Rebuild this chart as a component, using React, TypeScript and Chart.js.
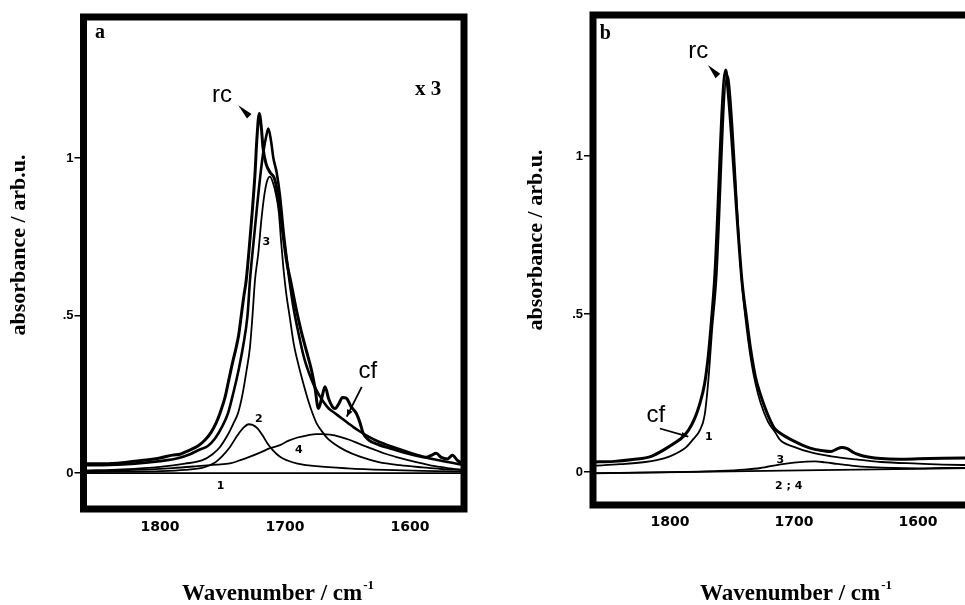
import React, { useEffect, useRef } from "react";
import { Chart, registerables } from "chart.js";

Chart.register(...registerables);

// ---------------- Panel a (wavenumber / cm-1 , absorbance) ----------------
const aRcX = [1861, 1845, 1830, 1815, 1800, 1790, 1784, 1778, 1770, 1764, 1759, 1755, 1752, 1748, 1745, 1742, 1739, 1737, 1735, 1733, 1731, 1728.5, 1726, 1724, 1722.5, 1720.6, 1719, 1717.5, 1715, 1712, 1708, 1705, 1702, 1699, 1695, 1691, 1687, 1683, 1679, 1676, 1673.3, 1670.5, 1668, 1665, 1662, 1660, 1657, 1654, 1651, 1647, 1643, 1640, 1637.5, 1633, 1625, 1615, 1605, 1595, 1587, 1583, 1579, 1575, 1570, 1566, 1562, 1557];
const aRcY = [0.03, 0.03, 0.033, 0.04, 0.048, 0.057, 0.06, 0.07, 0.085, 0.105, 0.13, 0.16, 0.19, 0.24, 0.295, 0.35, 0.4, 0.44, 0.5, 0.56, 0.613, 0.72, 0.84, 0.95, 1.06, 1.142, 1.1, 1.03, 0.98, 0.955, 0.93, 0.86, 0.77, 0.68, 0.6, 0.52, 0.45, 0.39, 0.33, 0.27, 0.205, 0.24, 0.274, 0.235, 0.21, 0.205, 0.22, 0.24, 0.238, 0.21, 0.19, 0.16, 0.127, 0.105, 0.09, 0.078, 0.066, 0.056, 0.05, 0.056, 0.063, 0.05, 0.045, 0.057, 0.04, 0.03];

const aFitX = [1861, 1840, 1820, 1800, 1785, 1776, 1768, 1762, 1756, 1750, 1745.6, 1741, 1737, 1733.6, 1730, 1728, 1725, 1722, 1719, 1717.3, 1715, 1713.3, 1711, 1709.3, 1706.7, 1704, 1701, 1698, 1696.5, 1693, 1689, 1685, 1681, 1677, 1673, 1669, 1665, 1660, 1655, 1650, 1645, 1640, 1635, 1628, 1620, 1610, 1600, 1590, 1580, 1570, 1560, 1557];
const aFitY = [0.025, 0.026, 0.03, 0.038, 0.048, 0.06, 0.075, 0.085, 0.11, 0.15, 0.19, 0.26, 0.33, 0.401, 0.5, 0.613, 0.74, 0.86, 0.97, 1.02, 1.07, 1.094, 1.05, 1.0, 0.955, 0.88, 0.76, 0.66, 0.613, 0.52, 0.44, 0.37, 0.32, 0.28, 0.25, 0.225, 0.205, 0.19, 0.175, 0.16, 0.145, 0.132, 0.12, 0.105, 0.092, 0.078, 0.065, 0.053, 0.043, 0.035, 0.028, 0.026];

const aComp3X = [1861, 1830, 1800, 1780, 1766, 1758, 1752, 1746, 1741, 1737.6, 1734, 1731, 1728, 1726, 1724, 1721.3, 1719, 1717, 1714.5, 1712, 1709.5, 1707, 1705, 1703, 1701, 1699, 1696, 1693, 1689, 1685, 1681, 1678, 1674.7, 1670, 1666, 1661, 1652, 1640, 1625, 1608, 1590, 1575, 1557];
const aComp3Y = [0.008, 0.012, 0.02, 0.03, 0.041, 0.06, 0.083, 0.12, 0.16, 0.19, 0.25, 0.32, 0.401, 0.5, 0.613, 0.7, 0.8, 0.87, 0.925, 0.941, 0.92, 0.88, 0.83, 0.73, 0.64, 0.57, 0.49, 0.41, 0.34, 0.28, 0.225, 0.19, 0.158, 0.13, 0.11, 0.094, 0.072, 0.052, 0.035, 0.025, 0.018, 0.013, 0.01];

const aComp2X = [1861, 1800, 1780, 1765, 1757, 1750, 1744, 1738, 1733, 1729, 1726, 1722, 1718, 1714, 1710, 1704, 1698, 1690, 1675, 1650, 1620, 1590, 1557];
const aComp2Y = [0.003, 0.006, 0.01, 0.018, 0.031, 0.055, 0.083, 0.12, 0.145, 0.155, 0.153, 0.142, 0.12, 0.094, 0.074, 0.052, 0.04, 0.03, 0.022, 0.015, 0.01, 0.007, 0.005];

const aComp4X = [1861, 1820, 1790, 1770, 1755, 1744, 1735, 1728, 1720, 1712, 1704, 1697, 1690, 1682, 1675, 1670, 1664, 1656, 1648, 1640, 1630, 1621, 1610, 1595, 1580, 1570, 1557];
const aComp4Y = [0.005, 0.01, 0.016, 0.022, 0.027, 0.031, 0.042, 0.052, 0.065, 0.079, 0.089, 0.103, 0.113, 0.12, 0.124, 0.124, 0.122, 0.115, 0.105, 0.092, 0.077, 0.063, 0.05, 0.035, 0.022, 0.016, 0.01];

const aComp1X = [1861, 1557];
const aComp1Y = [0, 0];

// ---------------- Panel b ----------------
const bExpX = [1862, 1845, 1830, 1815, 1803, 1795, 1790, 1785, 1780, 1776, 1772, 1769, 1766.5, 1764, 1755, 1753, 1742, 1738, 1735, 1731, 1727.4, 1722, 1716, 1711, 1700, 1687, 1677, 1670, 1666, 1661.5, 1657, 1652, 1647, 1640, 1630, 1615, 1600, 1580, 1556];
const bExpY = [0.032, 0.034, 0.04, 0.05, 0.075, 0.095, 0.11, 0.133, 0.17, 0.215, 0.28, 0.37, 0.48, 0.608, 1.272, 1.2, 0.608, 0.48, 0.39, 0.3, 0.25, 0.19, 0.14, 0.123, 0.098, 0.076, 0.068, 0.065, 0.072, 0.078, 0.074, 0.062, 0.054, 0.048, 0.043, 0.041, 0.042, 0.044, 0.045];

const bComp1X = [1862, 1840, 1820, 1810.7, 1800, 1792, 1786.6, 1781, 1775.8, 1772, 1769, 1766, 1762.5, 1754, 1752.5, 1742.2, 1737, 1734, 1731, 1727, 1721, 1715, 1711, 1700, 1687, 1670, 1650, 1630, 1600, 1580, 1556];
const bComp1Y = [0.02, 0.025, 0.032, 0.038, 0.05, 0.065, 0.08, 0.105, 0.133, 0.18, 0.291, 0.45, 0.608, 1.255, 1.24, 0.608, 0.42, 0.34, 0.28, 0.22, 0.16, 0.125, 0.101, 0.08, 0.063, 0.05, 0.04, 0.032, 0.027, 0.024, 0.022];

const bComp3X = [1862, 1800, 1760, 1740, 1727, 1712, 1700, 1690, 1683, 1675, 1665, 1652, 1638, 1620, 1600, 1580, 1556];
const bComp3Y = [-0.003, 0.0, 0.004, 0.008, 0.013, 0.024, 0.03, 0.033, 0.034, 0.031, 0.026, 0.02, 0.016, 0.013, 0.012, 0.013, 0.014];

const bComp24X = [1862, 1556];
const bComp24Y = [-0.004, 0.013];

// ---------------- axes ----------------
const xTickValues = [1800, 1700, 1600];
const yTickValues = [0, 0.5, 1];
const yTickLabels = ["0", ".5", "1"];
const xTitle = "Wavenumber / cm";
const xTitleSup = "-1";
const yTitle = "absorbance / arb.u.";

const SERIF = '"Liberation Serif", "Times New Roman", serif';
const SANS = '"Liberation Sans", Arial, sans-serif';
const LABEL = '"DejaVu Sans", sans-serif';

type Ann =
  | { kind: "text"; x: number; y: number; text: string; font: string }
  | { kind: "wedge"; x1: number; y1: number; x2: number; y2: number }
  | { kind: "arrow"; x1: number; y1: number; x2: number; y2: number };

const annA: Ann[] = [
  { kind: "text", x: 1852, y: 1.381, text: "a", font: `bold 20px ${SERIF}` },
  { kind: "text", x: 1596, y: 1.2, text: "x 3", font: `bold 21px ${SERIF}` },
  { kind: "text", x: 1758.4, y: 1.178, text: "rc", font: `24px ${SANS}` },
  { kind: "wedge", x1: 1737.4, y1: 1.168, x2: 1728.6, y2: 1.133 },
  { kind: "text", x: 1641.3, y: 0.302, text: "cf", font: `24px ${SANS}` },
  { kind: "arrow", x1: 1638.6, y1: 0.274, x2: 1650.6, y2: 0.179 },
  { kind: "text", x: 1718.1, y: 0.724, text: "3", font: `bold 11px ${LABEL}` },
  { kind: "text", x: 1724, y: 0.163, text: "2", font: `bold 11px ${LABEL}` },
  { kind: "text", x: 1692, y: 0.064, text: "4", font: `bold 11px ${LABEL}` },
  { kind: "text", x: 1754.7, y: -0.049, text: "1", font: `bold 11px ${LABEL}` },
];

const annB: Ann[] = [
  { kind: "text", x: 1856.5, y: 1.369, text: "b", font: `bold 20px ${SERIF}` },
  { kind: "text", x: 1785.2, y: 1.309, text: "rc", font: `24px ${SANS}` },
  { kind: "wedge", x1: 1769.4, y1: 1.288, x2: 1761.3, y2: 1.253 },
  { kind: "text", x: 1818.8, y: 0.159, text: "cf", font: `24px ${SANS}` },
  { kind: "arrow", x1: 1808.1, y1: 0.138, x2: 1785.2, y2: 0.112 },
  { kind: "text", x: 1771.8, y: 0.101, text: "1", font: `bold 11px ${LABEL}` },
  { kind: "text", x: 1714, y: 0.028, text: "3", font: `bold 11px ${LABEL}` },
  { kind: "text", x: 1715.3, y: -0.052, text: "2 ; 4", font: `bold 11px ${LABEL}` },
];

type Series = { xs: number[]; ys: number[]; width: number };

type PanelCfg = {
  left: number;
  width: number;
  padding: { left: number; top: number; right: number; bottom: number };
  yWidth: number;
  xHeight: number;
  xMin: number;
  xMax: number;
  yMin: number;
  yMax: number;
  xTickPad: number;
  series: Series[];
  ann: Ann[];
  titles: { xLeft: number; xBase: number; yBase: number; yCenter: number };
};

const panelA: PanelCfg = {
  left: 0,
  width: 480,
  padding: { left: 0, top: 17, right: 16, bottom: 0 },
  yWidth: 83.5,
  xHeight: 96,
  xMin: 1556.8,
  xMax: 1861.2,
  yMin: -0.114,
  yMax: 1.448,
  xTickPad: 10,
  series: [
    { xs: aComp1X, ys: aComp1Y, width: 1.8 },
    { xs: aComp2X, ys: aComp2Y, width: 1.8 },
    { xs: aComp4X, ys: aComp4Y, width: 1.8 },
    { xs: aComp3X, ys: aComp3Y, width: 1.8 },
    { xs: aFitX, ys: aFitY, width: 2.6 },
    { xs: aRcX, ys: aRcY, width: 3 },
  ],
  ann: annA,
  titles: { xLeft: 182, xBase: 600, yBase: 25, yCenter: 245 },
};

const panelB: PanelCfg = {
  left: 480,
  width: 495,
  padding: { left: 0, top: 15, right: 4, bottom: 0 },
  yWidth: 113,
  xHeight: 100,
  xMin: 1557.3,
  xMax: 1862,
  yMin: -0.104,
  yMax: 1.446,
  xTickPad: 9,
  series: [
    { xs: bComp24X, ys: bComp24Y, width: 1.8 },
    { xs: bComp3X, ys: bComp3Y, width: 1.8 },
    { xs: bComp1X, ys: bComp1Y, width: 1.8 },
    { xs: bExpX, ys: bExpY, width: 3 },
  ],
  ann: annB,
  titles: { xLeft: 220, xBase: 600, yBase: 62, yCenter: 240 },
};

function Panel({ cfg }: { cfg: PanelCfg }) {
  const ref = useRef<HTMLCanvasElement | null>(null);

  useEffect(() => {
    const canvas = ref.current;
    if (!canvas) return;

    const framePlugin = {
      id: "frame",
      afterDatasetsDraw(chart: any) {
        const { ctx, chartArea } = chart;
        const { left, top, right, bottom } = chartArea;
        ctx.save();
        ctx.lineWidth = 7;
        ctx.strokeStyle = "#000";
        ctx.lineJoin = "miter";
        ctx.strokeRect(left, top, right - left, bottom - top);
        ctx.restore();
      },
    };

    const annPlugin = {
      id: "ann",
      afterDraw(chart: any) {
        const { ctx } = chart;
        const xs = chart.scales.x;
        const ys = chart.scales.y;
        ctx.save();
        ctx.fillStyle = "#000";
        ctx.strokeStyle = "#000";
        for (const a of cfg.ann) {
          if (a.kind === "text") {
            ctx.font = a.font;
            ctx.textAlign = "left";
            ctx.textBaseline = "alphabetic";
            ctx.fillText(a.text, xs.getPixelForValue(a.x), ys.getPixelForValue(a.y));
          } else {
            const x1 = xs.getPixelForValue(a.x1);
            const y1 = ys.getPixelForValue(a.y1);
            const x2 = xs.getPixelForValue(a.x2);
            const y2 = ys.getPixelForValue(a.y2);
            const dx = x2 - x1;
            const dy = y2 - y1;
            const len = Math.hypot(dx, dy) || 1;
            const ux = dx / len;
            const uy = dy / len;
            const nx = -uy;
            const ny = ux;
            if (a.kind === "wedge") {
              ctx.beginPath();
              ctx.moveTo(x1, y1);
              ctx.lineTo(x2 + nx * 3.2, y2 + ny * 3.2);
              ctx.lineTo(x2 - nx * 3.2, y2 - ny * 3.2);
              ctx.closePath();
              ctx.fill();
            } else {
              ctx.lineWidth = 1.8;
              ctx.beginPath();
              ctx.moveTo(x1, y1);
              ctx.lineTo(x2, y2);
              ctx.stroke();
              ctx.beginPath();
              ctx.moveTo(x2, y2);
              ctx.lineTo(x2 - ux * 7 + nx * 3, y2 - uy * 7 + ny * 3);
              ctx.lineTo(x2 - ux * 7 - nx * 3, y2 - uy * 7 - ny * 3);
              ctx.closePath();
              ctx.fill();
            }
          }
        }
        // axis titles
        const t = cfg.titles;
        ctx.textAlign = "left";
        ctx.textBaseline = "alphabetic";
        ctx.font = `bold 23px ${SERIF}`;
        ctx.fillText(xTitle, t.xLeft, t.xBase);
        const w = ctx.measureText(xTitle).width;
        ctx.font = `bold 13px ${SERIF}`;
        ctx.fillText(xTitleSup, t.xLeft + w + 1, t.xBase - 11);

        ctx.save();
        ctx.translate(t.yBase, t.yCenter);
        ctx.rotate(-Math.PI / 2);
        ctx.font = `bold 22px ${SERIF}`;
        ctx.textAlign = "center";
        ctx.fillText(yTitle, 0, 0);
        ctx.restore();

        ctx.restore();
      },
    };

    const datasets = cfg.series.map((s) => ({
      data: s.xs.map((x, i) => ({ x, y: s.ys[i] })),
      borderColor: "#000",
      borderWidth: s.width,
      pointRadius: 0,
      fill: false,
      cubicInterpolationMode: "monotone" as const,
    }));

    const chart = new Chart(canvas, {
      type: "line",
      data: { datasets },
      plugins: [framePlugin, annPlugin],
      options: {
        animation: false,
        responsive: false,
        devicePixelRatio: 1,
        events: [],
        layout: { padding: cfg.padding },
        plugins: {
          legend: { display: false },
          tooltip: { enabled: false },
        },
        scales: {
          x: {
            type: "linear",
            reverse: true,
            min: cfg.xMin,
            max: cfg.xMax,
            afterBuildTicks: (s: any) => {
              s.ticks = xTickValues.map((v) => ({ value: v }));
            },
            afterFit: (s: any) => {
              s.height = cfg.xHeight;
            },
            grid: { display: false, drawTicks: false },
            border: { display: false },
            ticks: {
              color: "#000",
              padding: cfg.xTickPad,
              maxRotation: 0,
              autoSkip: false,
              font: { family: LABEL, weight: "bold", size: 14 },
              callback: (v: any) => String(v),
            },
          },
          y: {
            type: "linear",
            min: cfg.yMin,
            max: cfg.yMax,
            afterBuildTicks: (s: any) => {
              s.ticks = yTickValues.map((v) => ({ value: v }));
            },
            afterFit: (s: any) => {
              s.width = cfg.yWidth;
            },
            grid: {
              display: true,
              drawOnChartArea: false,
              drawTicks: true,
              tickLength: 9,
              color: "#000",
              lineWidth: 1.5,
            },
            border: { display: false },
            ticks: {
              color: "#000",
              padding: 1,
              autoSkip: false,
              font: { family: '"Liberation Sans Narrow", "Liberation Sans", sans-serif', weight: "bold", size: 13 },
              callback: (v: any) => {
                const i = yTickValues.indexOf(Number(v));
                return i >= 0 ? yTickLabels[i] : "";
              },
            },
          },
        },
      },
    } as any);

    return () => chart.destroy();
  }, [cfg]);

  return (
    <div style={{ position: "absolute", left: cfg.left, top: 0, width: cfg.width, height: 605 }}>
      <canvas ref={ref} width={cfg.width} height={605} style={{ width: cfg.width, height: 605, display: "block" }} />
    </div>
  );
}

export default function App() {
  return (
    <div
      style={{
        position: "fixed",
        left: 0,
        top: 0,
        width: 965,
        height: 605,
        overflow: "hidden",
        background: "#fff",
      }}
    >
      <Panel cfg={panelA} />
      <Panel cfg={panelB} />
    </div>
  );
}
